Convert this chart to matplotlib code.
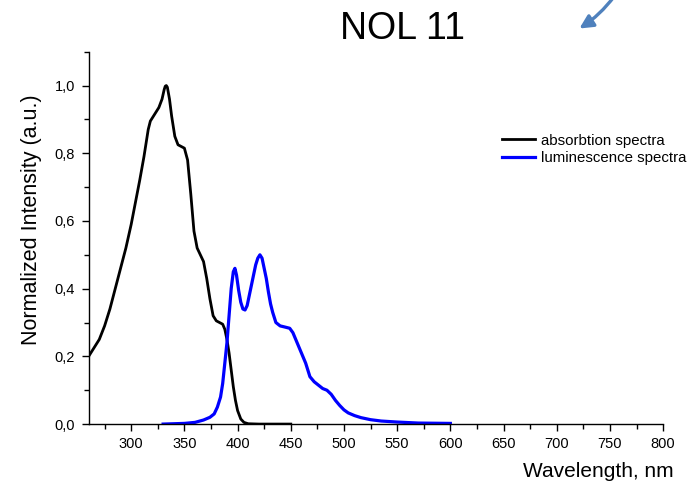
import numpy as np
import matplotlib
matplotlib.use("Agg")
import matplotlib.pyplot as plt
from matplotlib.ticker import MultipleLocator, FuncFormatter

plt.rcParams['font.family'] = ['Liberation Sans', 'DejaVu Sans']

# absorption spectrum (black)
abs_x = [260, 265, 270, 275, 280, 285, 290, 295, 300, 304, 308, 312, 316, 318, 322,
         326, 329, 331, 332, 333, 334, 336, 338, 341, 344, 347, 350, 353, 356, 359, 362, 365,
         368, 371, 374, 377, 380, 383, 386, 388, 390, 392, 394, 396, 398, 400, 403,
         406, 410, 420, 450]
abs_y = [0.20, 0.225, 0.25, 0.29, 0.34, 0.40, 0.46, 0.52, 0.59, 0.655, 0.72, 0.79, 0.87, 0.895, 0.915,
         0.935, 0.96, 0.988, 0.998, 1.0, 0.995, 0.96, 0.91, 0.85, 0.825, 0.82, 0.815, 0.78, 0.68, 0.57,
         0.52, 0.50, 0.48, 0.43, 0.37, 0.32, 0.305, 0.30, 0.295, 0.28, 0.25, 0.21, 0.16, 0.11, 0.07,
         0.04, 0.015, 0.005, 0.001, 0.0, 0.0]

# luminescence spectrum (blue)
lum_x = [330, 340, 350, 360, 368, 374, 378, 381, 384, 386, 388, 390, 392, 394, 396,
         397.5, 399, 401, 403, 405, 407, 409, 411, 413, 415, 417, 419, 421, 423, 425,
         427, 429, 431, 433, 436, 440, 444, 449, 452, 456, 460, 464, 468, 472, 476,
         480, 484, 488, 492, 496, 500, 504, 510, 516, 525, 535, 550, 570, 600]
lum_y = [0.0, 0.001, 0.002, 0.005, 0.012, 0.02, 0.03, 0.05, 0.08, 0.12, 0.18, 0.24, 0.32, 0.40, 0.45,
         0.46, 0.44, 0.395, 0.36, 0.34, 0.337, 0.35, 0.38, 0.41, 0.44, 0.47, 0.49, 0.50, 0.49, 0.46,
         0.43, 0.39, 0.355, 0.33, 0.30, 0.29, 0.287, 0.283, 0.27, 0.24, 0.21, 0.18, 0.14, 0.125, 0.115,
         0.105, 0.10, 0.088, 0.07, 0.055, 0.042, 0.033, 0.025, 0.019, 0.013, 0.009, 0.006, 0.003, 0.002]

fig = plt.figure(figsize=(6.98, 4.83), dpi=100)
ax = fig.add_axes([0.127, 0.122, 0.823, 0.771])

ax.plot(abs_x, abs_y, color='black', lw=2.0, label='absorbtion spectra')
ax.plot(lum_x, lum_y, color='#0000ff', lw=2.3, label='luminescence spectra')

ax.set_xlim(260, 800)
ax.set_ylim(0, 1.1)

ax.spines['top'].set_visible(False)
ax.spines['right'].set_visible(False)
for s in ['left', 'bottom']:
    ax.spines[s].set_linewidth(1.0)

ax.xaxis.set_minor_locator(MultipleLocator(25))
ax.yaxis.set_major_locator(MultipleLocator(0.2))
ax.yaxis.set_minor_locator(MultipleLocator(0.1))
ax.set_xticks(np.arange(300, 801, 50))
ax.yaxis.set_major_formatter(FuncFormatter(lambda v, p: f"{v:.1f}".replace('.', ',')))
ax.tick_params(which='major', length=5, width=1.0, labelsize=10.5, pad=4)
ax.tick_params(which='minor', length=3.5, width=1.0)
ax.tick_params(axis='y', pad=5)

leg = ax.legend(loc='upper left', bbox_to_anchor=(0.72, 0.78), frameon=False,
                borderpad=0, borderaxespad=0,
                fontsize=10.8, handlelength=2.2, handletextpad=0.4, labelspacing=0.25)

fig.text(0.577, 0.94, 'NOL 11', fontsize=27, ha='center', va='center')
fig.text(0.045, 0.545, 'Normalized Intensity (a.u.)', fontsize=15.5, rotation=90,
         ha='center', va='center')
fig.text(0.965, 0.023, 'Wavelength, nm', fontsize=15, ha='right', va='center')

# decorative arrow at the top
ax.annotate('', xy=(577 / 698, 1 - 30 / 483), xycoords='figure fraction',
            xytext=(616 / 698, 1 + 6 / 483), textcoords='figure fraction',
            arrowprops=dict(arrowstyle='-|>,head_length=0.8,head_width=0.4',
                            color='#4f81bd', lw=2.4,
                            connectionstyle='arc3,rad=-0.1'),
            annotation_clip=False)

fig.savefig('out.png', dpi=100)
